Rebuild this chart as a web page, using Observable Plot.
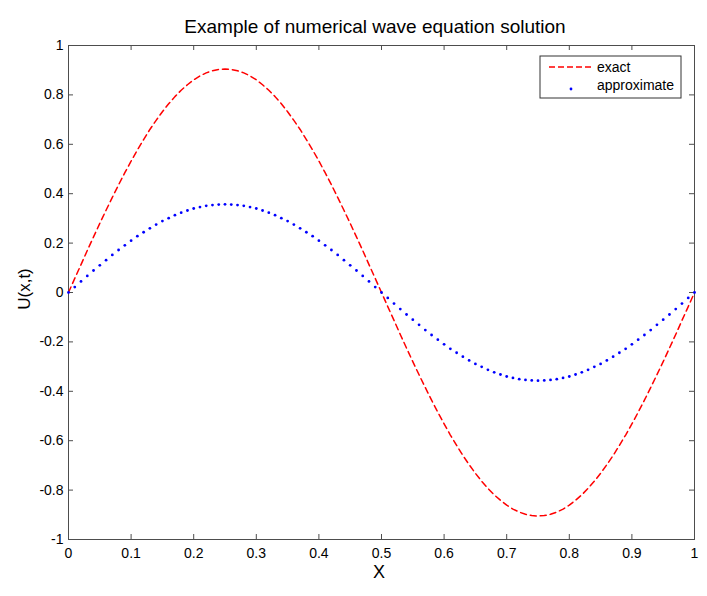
<!DOCTYPE html>
<html>
<head>
<meta charset="utf-8">
<script src="https://cdn.jsdelivr.net/npm/d3@7"></script>
<script src="https://cdn.jsdelivr.net/npm/@observablehq/plot@0.6"></script>
<style>
  html, body { margin: 0; padding: 0; background: #fff; }
  #chart { position: relative; width: 707px; height: 596px; }
</style>
</head>
<body>
<div id="chart"></div>
<script>
const title = "Example of numerical wave equation solution";
const xLabel = "X";
const yLabel = "U(x,t)";
const seriesNames = ["exact", "approximate"];

const xValues = [
  0, 0.01, 0.02, 0.03, 0.04, 0.05, 0.06, 0.07, 0.08, 0.09,
  0.10, 0.11, 0.12, 0.13, 0.14, 0.15, 0.16, 0.17, 0.18, 0.19,
  0.20, 0.21, 0.22, 0.23, 0.24, 0.25, 0.26, 0.27, 0.28, 0.29,
  0.30, 0.31, 0.32, 0.33, 0.34, 0.35, 0.36, 0.37, 0.38, 0.39,
  0.40, 0.41, 0.42, 0.43, 0.44, 0.45, 0.46, 0.47, 0.48, 0.49,
  0.50, 0.51, 0.52, 0.53, 0.54, 0.55, 0.56, 0.57, 0.58, 0.59,
  0.60, 0.61, 0.62, 0.63, 0.64, 0.65, 0.66, 0.67, 0.68, 0.69,
  0.70, 0.71, 0.72, 0.73, 0.74, 0.75, 0.76, 0.77, 0.78, 0.79,
  0.80, 0.81, 0.82, 0.83, 0.84, 0.85, 0.86, 0.87, 0.88, 0.89,
  0.90, 0.91, 0.92, 0.93, 0.94, 0.95, 0.96, 0.97, 0.98, 0.99, 1.00
];

const exactValues = [
  0, 0.057, 0.113, 0.170, 0.225, 0.280, 0.333, 0.385, 0.436, 0.485,
  0.532, 0.577, 0.619, 0.660, 0.697, 0.732, 0.764, 0.793, 0.819, 0.841,
  0.861, 0.877, 0.889, 0.898, 0.903, 0.905, 0.903, 0.898, 0.889, 0.877,
  0.861, 0.841, 0.819, 0.793, 0.764, 0.732, 0.697, 0.660, 0.619, 0.577,
  0.532, 0.485, 0.436, 0.385, 0.333, 0.280, 0.225, 0.170, 0.113, 0.057,
  0, -0.057, -0.113, -0.170, -0.225, -0.280, -0.333, -0.385, -0.436, -0.485,
  -0.532, -0.577, -0.619, -0.660, -0.697, -0.732, -0.764, -0.793, -0.819, -0.841,
  -0.861, -0.877, -0.889, -0.898, -0.903, -0.905, -0.903, -0.898, -0.889, -0.877,
  -0.861, -0.841, -0.819, -0.793, -0.764, -0.732, -0.697, -0.660, -0.619, -0.577,
  -0.532, -0.485, -0.436, -0.385, -0.333, -0.280, -0.225, -0.170, -0.113, -0.057, 0
];

const approxValues = [
  0, 0.022, 0.045, 0.067, 0.089, 0.110, 0.131, 0.152, 0.172, 0.191,
  0.210, 0.228, 0.244, 0.260, 0.275, 0.289, 0.301, 0.313, 0.323, 0.332,
  0.340, 0.346, 0.351, 0.354, 0.356, 0.357, 0.356, 0.354, 0.351, 0.346,
  0.340, 0.332, 0.323, 0.313, 0.301, 0.289, 0.275, 0.260, 0.244, 0.228,
  0.210, 0.191, 0.172, 0.152, 0.131, 0.110, 0.089, 0.067, 0.045, 0.022,
  0, -0.022, -0.045, -0.067, -0.089, -0.110, -0.131, -0.152, -0.172, -0.191,
  -0.210, -0.228, -0.244, -0.260, -0.275, -0.289, -0.301, -0.313, -0.323, -0.332,
  -0.340, -0.346, -0.351, -0.354, -0.356, -0.357, -0.356, -0.354, -0.351, -0.346,
  -0.340, -0.332, -0.323, -0.313, -0.301, -0.289, -0.275, -0.260, -0.244, -0.228,
  -0.210, -0.191, -0.172, -0.152, -0.131, -0.110, -0.089, -0.067, -0.045, -0.022, 0
];

const xTicks = [0, 0.1, 0.2, 0.3, 0.4, 0.5, 0.6, 0.7, 0.8, 0.9, 1];
const yTicks = [-1, -0.8, -0.6, -0.4, -0.2, 0, 0.2, 0.4, 0.6, 0.8, 1];

// build tables for Plot
const exactRows = xValues.map((x, i) => ({x, y: exactValues[i]}));
const approxRows = xValues.map((x, i) => ({x, y: approxValues[i]}));

const W = 707, H = 596;
const mL = 68, mR = 13, mT = 45, mB = 57;
const innerW = W - mL - mR, innerH = H - mT - mB;
const tickLen = 5;
const axisColor = "#4d4d4d";
const fmt = d => String(d);

const plot = Plot.plot({
  width: W,
  height: H,
  marginLeft: mL,
  marginRight: mR,
  marginTop: mT,
  marginBottom: mB,
  x: {domain: [0, 1]},
  y: {domain: [-1, 1]},
  style: {fontFamily: "'Liberation Sans', Arial, sans-serif", fontSize: "14px", color: "#000", background: "#fff"},
  marks: [
    Plot.frame({stroke: axisColor}),
    Plot.ruleX(xTicks, {x: d => d, insetTop: innerH - tickLen, stroke: axisColor}),
    Plot.ruleX(xTicks, {x: d => d, insetBottom: innerH - tickLen, stroke: axisColor}),
    Plot.ruleY(yTicks, {y: d => d, insetLeft: innerW - tickLen, stroke: axisColor}),
    Plot.ruleY(yTicks, {y: d => d, insetRight: innerW - tickLen, stroke: axisColor}),
    Plot.axisX({ticks: xTicks, tickSize: 0, tickPadding: 9, tickFormat: fmt, label: null}),
    Plot.axisY({ticks: yTicks, tickSize: 0, tickPadding: 5, tickFormat: fmt, label: null}),
    Plot.line(exactRows, {x: "x", y: "y", stroke: "#ff0000", strokeWidth: 1.5, strokeDasharray: "6,4"}),
    Plot.dot(approxRows, {x: "x", y: "y", r: 1.4, fill: "#0000ff", stroke: "none"})
  ]
});

document.getElementById("chart").appendChild(plot);

const svg = d3.select(plot);
const font = "'Liberation Sans', Arial, sans-serif";

svg.append("text")
  .attr("x", 375).attr("y", 33)
  .attr("text-anchor", "middle")
  .attr("font-family", font).attr("font-size", 19).attr("fill", "#000")
  .text(title);

svg.append("text")
  .attr("x", 379).attr("y", 578)
  .attr("text-anchor", "middle")
  .attr("font-family", font).attr("font-size", 18).attr("fill", "#000")
  .text(xLabel);

svg.append("text")
  .attr("transform", "translate(30,289) rotate(-90)")
  .attr("text-anchor", "middle")
  .attr("font-family", font).attr("font-size", 17).attr("fill", "#000")
  .text(yLabel);

// legend
const lg = svg.append("g").attr("text-anchor", "start");
lg.append("rect")
  .attr("x", 540).attr("y", 56).attr("width", 141).attr("height", 42)
  .attr("fill", "#fff").attr("stroke", "#333");
lg.append("line")
  .attr("x1", 549).attr("x2", 592).attr("y1", 67).attr("y2", 67)
  .attr("stroke", "#ff0000").attr("stroke-width", 1.5).attr("stroke-dasharray", "6,3");
lg.append("circle")
  .attr("cx", 571).attr("cy", 89).attr("r", 1.4).attr("fill", "#0000ff");
lg.append("text")
  .attr("x", 597).attr("y", 72)
  .attr("text-anchor", "start")
  .attr("font-family", font).attr("font-size", 14).attr("fill", "#000")
  .text(seriesNames[0]);
lg.append("text")
  .attr("x", 597).attr("y", 90)
  .attr("text-anchor", "start")
  .attr("font-family", font).attr("font-size", 14).attr("fill", "#000")
  .text(seriesNames[1]);
</script>
</body>
</html>
